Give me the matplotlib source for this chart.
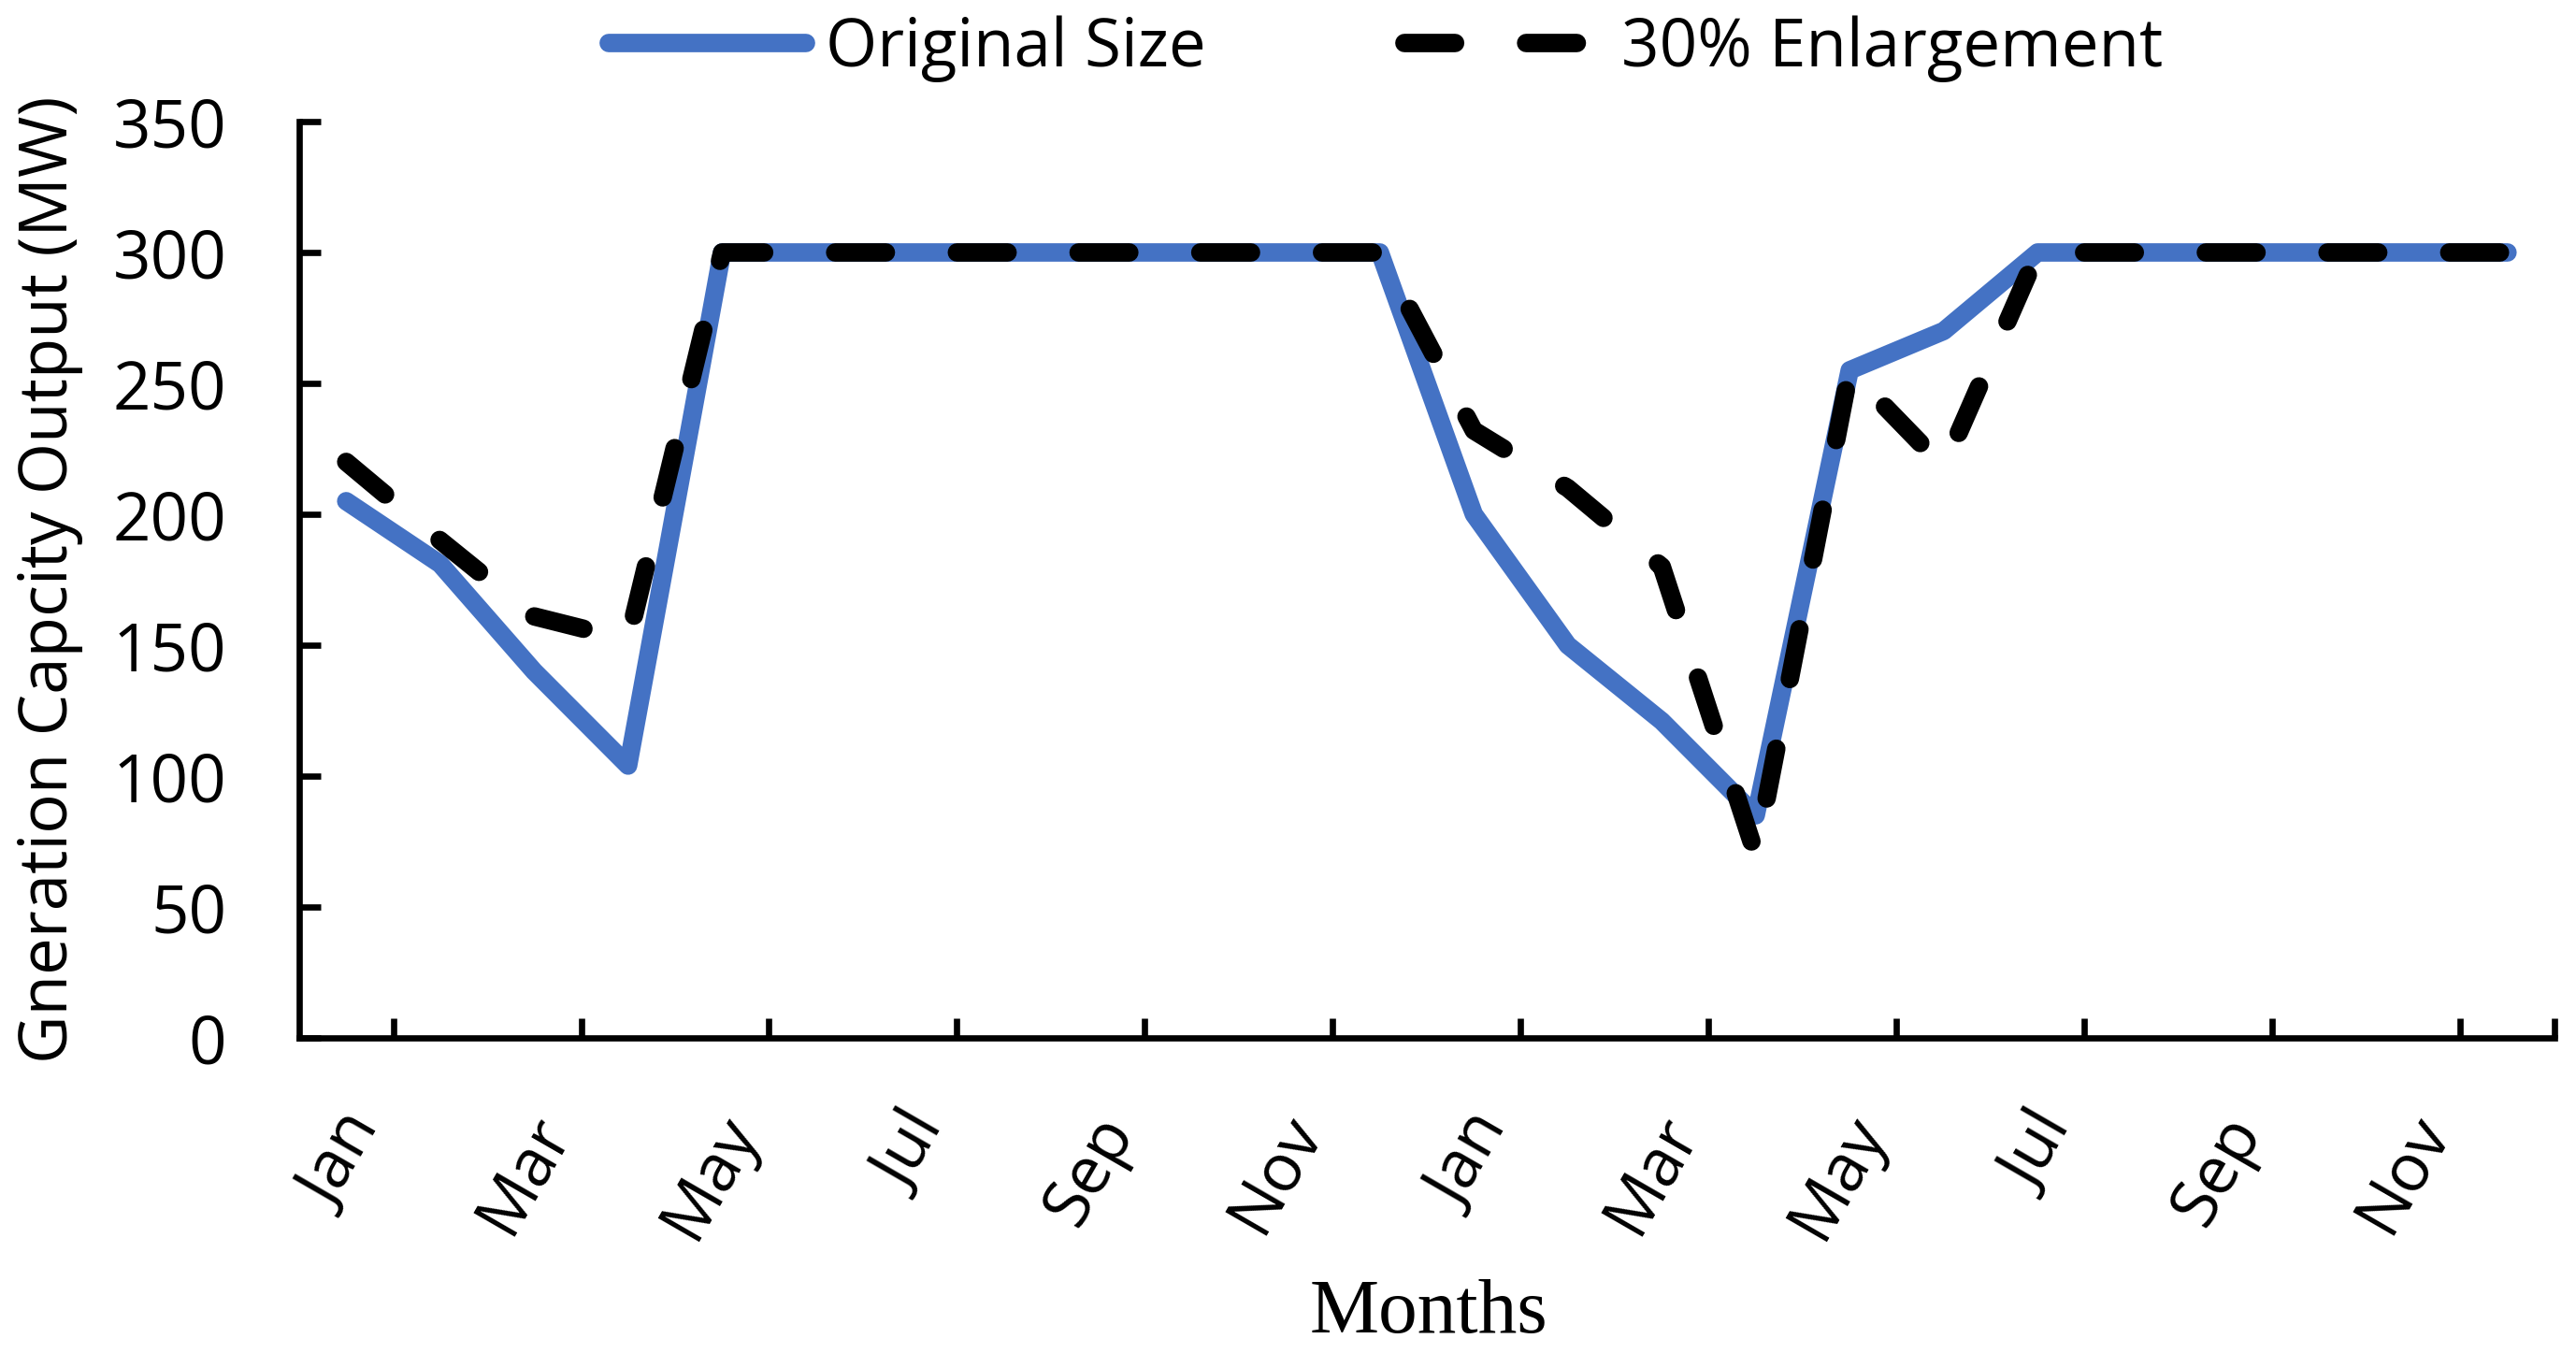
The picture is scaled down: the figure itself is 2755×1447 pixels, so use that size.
import numpy as np
import matplotlib.pyplot as plt
from matplotlib.transforms import ScaledTranslation

plt.rcParams['font.family'] = ['Open Sans', 'DejaVu Sans']

# two years of monthly values (MW)
months = ['Jan', 'Feb', 'Mar', 'Apr', 'May', 'Jun',
          'Jul', 'Aug', 'Sep', 'Oct', 'Nov', 'Dec'] * 2
original_size = [205, 181, 140, 104, 300, 300, 300, 300, 300, 300, 300, 300,
                 200, 150, 121, 85, 255, 270, 300, 300, 300, 300, 300, 300]
enlargement_30 = [220, 190, 161, 152, 300, 300, 300, 300, 300, 300, 300, 300,
                  232, 210, 180, 70, 255, 218, 300, 300, 300, 300, 300, 300]
y_ticks = [0, 50, 100, 150, 200, 250, 300, 350]

W, H = 2755, 1447
fig = plt.figure(figsize=(W / 100, H / 100), dpi=100)
ax = fig.add_axes([320 / W, 1 - 1110 / H, (2732 - 320) / W, (1110 - 130) / H])

x = np.arange(len(months))
lw = 14.2
ax.plot(x, original_size, color='#4472C4', lw=lw, solid_capstyle='round',
        solid_joinstyle='round', label='Original Size', zorder=2)
ax.plot(x, enlargement_30, color='black', lw=lw, linestyle=(0, (2.75, 3.85)),
        dash_capstyle='round', dash_joinstyle='round',
        label='30% Enlargement', zorder=3)

ax.set_xlim(-0.5, len(months) - 0.5)
ax.set_ylim(0, 350)

# tick marks on category boundaries, labels on every other month
bounds = list(np.arange(1, len(months), 2) - 0.5) + [len(months) - 0.5]
ax.set_xticks(bounds)
ax.set_xticklabels([])
ax.set_xticks(x[::2], months[::2], minor=True)
ax.tick_params(axis='x', which='major', direction='in', length=15, width=4.8)
ax.tick_params(axis='x', which='minor', length=0, pad=64, labelsize=51)
shift = ScaledTranslation(0.22, 0, fig.dpi_scale_trans)
for lbl in ax.get_xticklabels(minor=True):
    lbl.set_rotation(60)
    lbl.set_ha('right')
    lbl.set_va('center')
    lbl.set_rotation_mode('anchor')
    lbl.set_transform(lbl.get_transform() + shift)

ax.set_yticks(y_ticks)
ax.tick_params(axis='y', direction='in', length=16.5, width=4.8, pad=56,
               labelsize=51)

for s in ['top', 'right']:
    ax.spines[s].set_visible(False)
for s in ['left', 'bottom']:
    ax.spines[s].set_linewidth(4.8)

fig.text(53 / W, 1 - 620 / H, 'Gneration Capcity Output (MW)', rotation=90,
         ha='center', va='center', fontsize=51)
fig.text(1528 / W, 1 - 1405 / H, 'Months', ha='center', va='center',
         fontsize=60, family='Liberation Serif')

ax.legend(loc='center', bbox_to_anchor=(1482 / W, 1 - 52 / H),
          bbox_transform=fig.transFigure, ncol=2, frameon=False, fontsize=51,
          handlelength=2.97, handletextpad=0.3, columnspacing=3.0,
          borderaxespad=0, borderpad=0)

plt.savefig('out.png', dpi=100)
